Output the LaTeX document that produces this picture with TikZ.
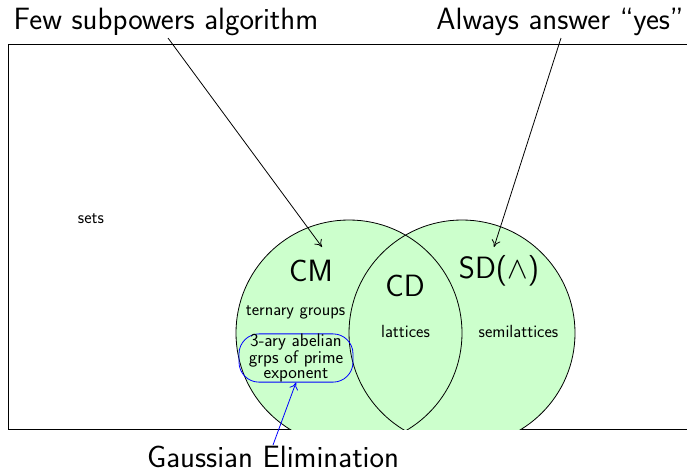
\RequirePackage{fix-cm}
\documentclass[tikz,border=0pt]{standalone}
\usepackage{fontspec}
\usetikzlibrary{arrows.meta}
\renewcommand{\familydefault}{\sfdefault}
\colorlet{setfill}{green!20}
\tikzset{
  biglabel/.style={font=\fontsize{30.8}{36}\selectfont, inner sep=0pt, anchor=base},
  smalllabel/.style={font=\fontsize{17.6}{15}\selectfont, inner sep=0pt, anchor=base},
  region/.style={circle, minimum size=226pt, inner sep=0pt},
  pointer/.style={-{To[length=7pt,width=9pt]}, line width=0.8pt},
  framebox/.style={line width=0.9pt},
}
\begin{document}
\begin{tikzpicture}[x=1pt,y=-1pt]
\useasboundingbox (0,0) rectangle (687,472);
\clip (0,0) rectangle (687,472);

% universe of all algebras
\draw[framebox] (8,44) rectangle (720,429);

% the two classes, cut off at the bottom edge of the frame
\begin{scope}
  \clip (8,44) rectangle (720,429);
  \node[region, fill=setfill] (cmfill) at (349,333) {};
  \node[region, fill=setfill] (sdfill) at (462,333) {};
  \node[region, draw, line width=0.8pt] (cm) at (349,333) {};
  \node[region, draw, line width=0.8pt] (sd) at (462,333) {};
\end{scope}

% labels
\node[biglabel] (few) at (166,29) {Few subpowers algorithm};
\node[biglabel] (yes) at (560,29) {Always answer ``yes''};
\node[biglabel] (gauss) at (273,467) {Gaussian Elimination};

\node[smalllabel] (sets) at (91,223) {sets};
\node[biglabel] (cmlab) at (311,281) {CM};
\node[biglabel] (cdlab) at (405,296) {CD};
\node[biglabel] (sdlab) at (499,278) {SD($\wedge$)};

\node[smalllabel] (ternary) at (295.5,315) {ternary groups};
\node[smalllabel] (lat) at (405.5,337) {lattices};
\node[smalllabel] (semilat) at (518.5,337) {semilattices};

\node[draw=blue, line width=0.8pt, rounded corners=20pt, minimum width=114pt,
      minimum height=46pt, inner sep=0pt, align=center,
      font=\fontsize{18.2}{14.6}\selectfont] (grp) at (296,358)
      {3-ary abelian\\grps of prime\\exponent};

% pointers
\coordinate (fewtail) at (168,38);
\coordinate (cmtip) at (322,247);
\coordinate (yestail) at (561,38);
\coordinate (sdtip) at (494,247);
\coordinate (gausstail) at (273,445);

\draw[pointer] (fewtail) -- (cmtip);
\draw[pointer] (yestail) -- (sdtip);
\draw[pointer, blue] (gausstail) -- (grp.south);
\end{tikzpicture}
\end{document}
